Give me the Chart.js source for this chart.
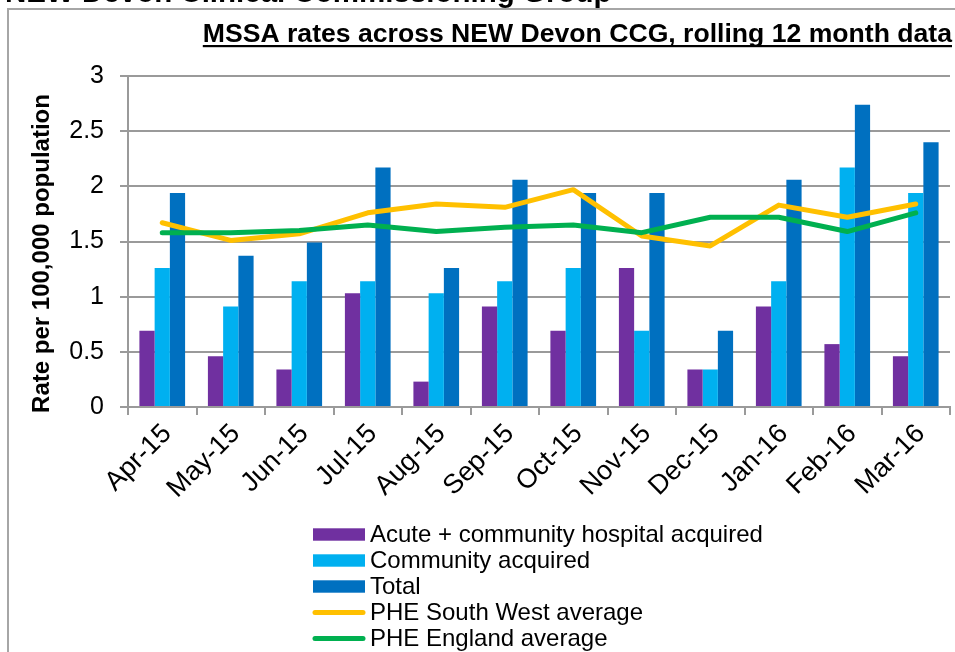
<!DOCTYPE html>
<html>
<head>
<meta charset="utf-8">
<script src="https://cdn.jsdelivr.net/npm/chart.js@4/dist/chart.umd.min.js"></script>
<style>
  html, body { margin: 0; padding: 0; background: #ffffff; }
  #wrap { position: relative; width: 955px; height: 652px; overflow: hidden; }
  canvas { display: block; }
</style>
</head>
<body>
<div id="wrap"><canvas id="c" width="955" height="652"></canvas></div>
<script>
// ---- Data ----
const categories = ['Apr-15','May-15','Jun-15','Jul-15','Aug-15','Sep-15','Oct-15','Nov-15','Dec-15','Jan-16','Feb-16','Mar-16'];
const acuteCommunityHospital = [0.69, 0.46, 0.34, 1.03, 0.23, 0.91, 0.69, 1.26, 0.34, 0.91, 0.57, 0.46];
const communityAcquired      = [1.26, 0.91, 1.14, 1.14, 1.03, 1.14, 1.26, 0.69, 0.34, 1.14, 2.17, 1.94];
const totalRate              = [1.94, 1.37, 1.49, 2.17, 1.26, 2.06, 1.94, 1.94, 0.69, 2.06, 2.74, 2.40];
const pheSouthWest           = [1.67, 1.51, 1.57, 1.76, 1.84, 1.81, 1.97, 1.55, 1.46, 1.83, 1.72, 1.84];
const pheEngland             = [1.58, 1.58, 1.60, 1.65, 1.59, 1.63, 1.65, 1.58, 1.72, 1.72, 1.59, 1.76];
const yTicks = [0, 0.5, 1, 1.5, 2, 2.5, 3];
const yTickLabels = ['0', '0.5', '1', '1.5', '2', '2.5', '3'];
const seriesNames = ['Acute + community hospital acquired','Community acquired','Total','PHE South West average','PHE England average'];
const chartTitle = 'MSSA rates across NEW Devon CCG, rolling 12 month data';
const pageHeading = 'NEW Devon Clinical Commissioning Group';
const yAxisTitle = 'Rate per 100,000 population';

const FONT = '"Liberation Sans", Arial, sans-serif';
const GRID = '#9a9a9a';

const decorPlugin = {
  id: 'decor',
  beforeDraw(chart) {
    const ctx = chart.ctx;
    ctx.save();
    ctx.fillStyle = '#ffffff';
    ctx.fillRect(0, 0, chart.width, chart.height);
    // frame
    ctx.strokeStyle = '#a6a6a6';
    ctx.lineWidth = 2;
    ctx.beginPath();
    ctx.moveTo(8, 660);
    ctx.lineTo(8, 9);
    ctx.lineTo(960, 9);
    ctx.stroke();
    // cut-off page heading
    ctx.fillStyle = '#000000';
    ctx.font = 'bold 29.5px ' + FONT;
    ctx.textAlign = 'left';
    ctx.textBaseline = 'alphabetic';
    ctx.fillText(pageHeading, 5, 1.5);
    // chart title (underlined)
    ctx.font = 'bold 26.6px ' + FONT;
    ctx.textAlign = 'right';
    const tx = 952, ty = 42;
    ctx.fillText(chartTitle, tx, ty);
    const w = ctx.measureText(chartTitle).width;
    ctx.fillRect(tx - w, ty + 3, w, 2.2);
    // y axis title
    ctx.save();
    ctx.translate(49, 253.5);
    ctx.rotate(-Math.PI / 2);
    ctx.font = 'bold 24px ' + FONT;
    ctx.textAlign = 'center';
    ctx.fillText(yAxisTitle, 0, 0);
    ctx.restore();
    ctx.restore();
  },
  afterDraw(chart) {
    const ctx = chart.ctx;
    ctx.save();
    chart.data.datasets.forEach((ds, i) => {
      const cy = 534.5 + i * 26;
      if (ds.type === 'line') {
        ctx.strokeStyle = ds.borderColor;
        ctx.lineWidth = 5;
        ctx.lineCap = 'round';
        ctx.beginPath();
        ctx.moveTo(315, cy);
        ctx.lineTo(363, cy);
        ctx.stroke();
      } else {
        ctx.fillStyle = ds.backgroundColor;
        ctx.fillRect(313, cy - 6.2, 52, 12.4);
      }
      ctx.fillStyle = '#000000';
      ctx.font = '24px ' + FONT;
      ctx.textAlign = 'left';
      ctx.textBaseline = 'alphabetic';
      ctx.fillText(ds.label, 370, cy + 7.5);
    });
    ctx.restore();
  }
};

new Chart(document.getElementById('c'), {
  data: {
    labels: categories,
    datasets: [
      { type: 'bar', label: seriesNames[0], data: acuteCommunityHospital, backgroundColor: '#7030A0', order: 2 },
      { type: 'bar', label: seriesNames[1], data: communityAcquired, backgroundColor: '#00B0F0', order: 2 },
      { type: 'bar', label: seriesNames[2], data: totalRate, backgroundColor: '#0070C0', order: 2 },
      { type: 'line', label: seriesNames[3], data: pheSouthWest, borderColor: '#FFC000', backgroundColor: '#FFC000',
        borderWidth: 5, pointRadius: 0, tension: 0, borderCapStyle: 'round', borderJoinStyle: 'round', order: 1 },
      { type: 'line', label: seriesNames[4], data: pheEngland, borderColor: '#00B050', backgroundColor: '#00B050',
        borderWidth: 5, pointRadius: 0, tension: 0, borderCapStyle: 'round', borderJoinStyle: 'round', order: 0 }
    ]
  },
  options: {
    responsive: false,
    animation: false,
    devicePixelRatio: 1,
    layout: { padding: { left: 0, right: 5, top: 76, bottom: 0 } },
    datasets: { bar: { categoryPercentage: 0.667, barPercentage: 1.0 } },
    plugins: {
      legend: { display: false },
      title: { display: false },
      tooltip: { enabled: false }
    },
    scales: {
      x: {
        offset: true,
        grid: { offset: true, drawOnChartArea: false, drawTicks: true, tickLength: 8, color: GRID, lineWidth: 2 },
        border: { display: true, color: GRID, width: 2 },
        ticks: { minRotation: 45, maxRotation: 45, autoSkip: false, padding: 3, labelOffset: 5, color: '#000000',
                 font: { family: FONT, size: 27 } },
        afterFit(scale) { scale.height = 245; }
      },
      y: {
        min: 0, max: 3,
        afterBuildTicks(scale) { scale.ticks = yTicks.map(v => ({ value: v })); },
        grid: { drawOnChartArea: true, drawTicks: true, tickLength: 8, color: GRID, lineWidth: 2 },
        border: { display: true, color: GRID, width: 2 },
        ticks: { padding: 16, color: '#000000', font: { family: FONT, size: 25 },
                 callback(value, index) { return yTickLabels[yTicks.indexOf(value)] ?? String(value); } },
        title: { display: false },
        afterFit(scale) { scale.width = 128; }
      }
    }
  },
  plugins: [decorPlugin]
});
</script>
</body>
</html>
